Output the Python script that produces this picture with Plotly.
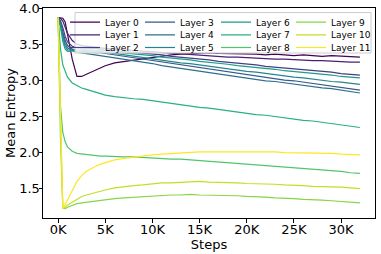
import plotly.graph_objects as go

steps = [0, 250, 500, 750, 1000, 1500, 2000, 2500, 3000, 3500, 4000, 4500, 5000,
         6000, 7000, 8000, 9000, 10000, 11000, 12000, 13000, 14000, 15000, 16000,
         17000, 18000, 19000, 20000, 21000, 22000, 23000, 24000, 25000, 26000,
         27000, 28000, 29000, 30000, 31000, 32000]

layer0 = [3.88, 3.88, 3.87, 3.82, 3.66, 3.30, 3.06, 3.06, 3.09, 3.12, 3.15, 3.18, 3.21, 3.25, 3.27, 3.29, 3.31, 3.33, 3.34, 3.36, 3.37, 3.38, 3.38, 3.39, 3.38, 3.38, 3.37, 3.38, 3.37, 3.36, 3.37, 3.36, 3.35, 3.36, 3.35, 3.34, 3.35, 3.34, 3.33, 3.33]
layer1 = [3.88, 3.87, 3.83, 3.75, 3.66, 3.56, 3.51, 3.49, 3.48, 3.47, 3.47, 3.46, 3.45, 3.44, 3.43, 3.42, 3.41, 3.40, 3.39, 3.38, 3.37, 3.36, 3.35, 3.35, 3.34, 3.33, 3.33, 3.32, 3.31, 3.31, 3.30, 3.30, 3.29, 3.29, 3.28, 3.28, 3.27, 3.27, 3.26, 3.26]
layer2 = [3.88, 3.84, 3.74, 3.62, 3.54, 3.48, 3.46, 3.46, 3.45, 3.45, 3.45, 3.44, 3.44, 3.42, 3.41, 3.40, 3.39, 3.37, 3.36, 3.34, 3.33, 3.31, 3.30, 3.29, 3.27, 3.26, 3.24, 3.23, 3.22, 3.20, 3.19, 3.18, 3.16, 3.15, 3.14, 3.13, 3.12, 3.10, 3.09, 3.08]
layer3 = [3.88, 3.82, 3.68, 3.56, 3.49, 3.44, 3.42, 3.41, 3.40, 3.40, 3.39, 3.39, 3.38, 3.36, 3.34, 3.32, 3.30, 3.28, 3.26, 3.24, 3.22, 3.20, 3.18, 3.16, 3.14, 3.12, 3.10, 3.09, 3.07, 3.05, 3.03, 3.01, 3.00, 2.98, 2.96, 2.95, 2.93, 2.91, 2.89, 2.87]
layer4 = [3.88, 3.80, 3.64, 3.52, 3.46, 3.42, 3.40, 3.39, 3.38, 3.38, 3.37, 3.36, 3.35, 3.33, 3.31, 3.29, 3.26, 3.24, 3.21, 3.19, 3.17, 3.15, 3.13, 3.11, 3.09, 3.07, 3.06, 3.04, 3.02, 3.00, 2.99, 2.97, 2.95, 2.94, 2.92, 2.90, 2.89, 2.87, 2.85, 2.83]
layer5 = [3.88, 3.78, 3.60, 3.48, 3.43, 3.42, 3.42, 3.42, 3.42, 3.41, 3.41, 3.41, 3.40, 3.38, 3.36, 3.35, 3.33, 3.31, 3.29, 3.27, 3.25, 3.24, 3.22, 3.20, 3.18, 3.17, 3.15, 3.13, 3.12, 3.10, 3.08, 3.07, 3.05, 3.04, 3.02, 3.01, 2.99, 2.98, 2.96, 2.95]
layer6 = [3.88, 3.75, 3.55, 3.44, 3.41, 3.42, 3.43, 3.43, 3.43, 3.43, 3.43, 3.42, 3.42, 3.40, 3.39, 3.38, 3.36, 3.35, 3.33, 3.32, 3.30, 3.29, 3.27, 3.26, 3.24, 3.23, 3.21, 3.20, 3.18, 3.17, 3.16, 3.14, 3.13, 3.12, 3.10, 3.09, 3.08, 3.06, 3.05, 3.04]
layer7 = [3.88, 3.45, 3.22, 3.12, 3.05, 2.97, 2.93, 2.90, 2.88, 2.86, 2.84, 2.81, 2.80, 2.78, 2.76, 2.75, 2.74, 2.72, 2.70, 2.68, 2.67, 2.65, 2.63, 2.62, 2.60, 2.59, 2.57, 2.55, 2.53, 2.52, 2.50, 2.49, 2.47, 2.45, 2.44, 2.42, 2.40, 2.39, 2.37, 2.35]
layer8 = [3.88, 2.65, 2.28, 2.15, 2.08, 2.02, 1.99, 1.98, 1.97, 1.96, 1.96, 1.95, 1.95, 1.94, 1.94, 1.94, 1.93, 1.92, 1.92, 1.91, 1.91, 1.90, 1.90, 1.89, 1.88, 1.87, 1.86, 1.85, 1.84, 1.83, 1.82, 1.81, 1.79, 1.78, 1.77, 1.76, 1.75, 1.74, 1.72, 1.71]
layer9 = [3.88, 2.20, 1.23, 1.22, 1.24, 1.27, 1.29, 1.30, 1.31, 1.32, 1.33, 1.34, 1.35, 1.36, 1.37, 1.38, 1.39, 1.40, 1.41, 1.41, 1.41, 1.42, 1.41, 1.41, 1.41, 1.40, 1.40, 1.39, 1.39, 1.38, 1.37, 1.37, 1.36, 1.35, 1.35, 1.34, 1.33, 1.32, 1.31, 1.30]
layer10 = [3.88, 2.30, 1.22, 1.24, 1.27, 1.31, 1.35, 1.39, 1.41, 1.43, 1.45, 1.47, 1.48, 1.51, 1.53, 1.54, 1.55, 1.57, 1.58, 1.58, 1.59, 1.59, 1.60, 1.59, 1.59, 1.58, 1.58, 1.57, 1.57, 1.56, 1.56, 1.55, 1.55, 1.54, 1.53, 1.53, 1.52, 1.52, 1.51, 1.50]
layer11 = [3.88, 2.40, 1.22, 1.28, 1.35, 1.47, 1.60, 1.68, 1.74, 1.78, 1.81, 1.84, 1.86, 1.90, 1.92, 1.94, 1.96, 1.97, 1.98, 1.99, 2.00, 2.00, 2.01, 2.01, 2.01, 2.02, 2.01, 2.02, 2.01, 2.01, 2.01, 2.00, 2.00, 2.00, 1.99, 1.99, 1.99, 1.98, 1.98, 1.97]

layers = [layer0, layer1, layer2, layer3, layer4, layer5, layer6, layer7,
          layer8, layer9, layer10, layer11]
names = [f"Layer {i}" for i in range(12)]
colors = ["#440154", "#482173", "#433e85", "#38588c", "#2d708e", "#25858e",
          "#1e9b8a", "#2ab07f", "#52c569", "#86d549", "#c2df23", "#fde725"]

x_tickvals = [0, 5000, 10000, 15000, 20000, 25000, 30000]
x_ticktext = ["0K", "5K", "10K", "15K", "20K", "25K", "30K"]
y_tickvals = [1.5, 2.0, 2.5, 3.0, 3.5, 4.0]
y_ticktext = ["1.5", "2.0", "2.5", "3.0", "3.5", "4.0"]

FONT = "DejaVu Sans"
W, H = 381, 254
ML, MR, MT, MB = 43, 6, 8, 36
PW, PH = W - ML - MR, H - MT - MB

def px_x(p):
    return (p - ML) / PW

def px_y(p):
    return 1 - (p - MT) / PH

fig = go.Figure()
legend_layouts = {}
col_text_px = [103, 178, 254, 329]
row_px = [20.7, 33.3, 46.0]
for i, vals in enumerate(layers):
    key = "legend" if i == 0 else f"legend{i + 1}"
    fig.add_trace(go.Scatter(x=steps, y=vals, mode="lines", name=names[i],
                             line=dict(color=colors[i], width=1.2),
                             legend=key))
    c, r = divmod(i, 3)
    legend_layouts[key] = dict(
        x=px_x(col_text_px[c] - 38), xanchor="left",
        y=px_y(row_px[r] + 1.5), yanchor="middle",
        bgcolor="rgba(0,0,0,0)", borderwidth=0,
        font=dict(family=FONT, size=9, color="black"),
        itemwidth=30, tracegroupgap=0,
    )

fig.update_layout(**legend_layouts)

fig.add_shape(type="rect", xref="paper", yref="paper",
              x0=px_x(75), x1=px_x(371), y0=px_y(53), y1=px_y(12.5),
              fillcolor="rgba(255,255,255,0.8)",
              line=dict(color="#cccccc", width=1), layer="above")

axis_common = dict(showline=True, linecolor="black", linewidth=1, mirror=True,
                   ticks="outside", ticklen=3.5, tickwidth=0.8, tickcolor="black",
                   showgrid=False, zeroline=False, automargin=False,
                   ticklabelstandoff=-4,
                   tickfont=dict(family=FONT, size=13, color="black"))

fig.update_layout(
    width=W, height=H,
    margin=dict(l=ML, r=MR, t=MT, b=MB, autoexpand=False),
    paper_bgcolor="white", plot_bgcolor="white",
    showlegend=True,
    xaxis=dict(range=[-1600, 33600], tickvals=x_tickvals, ticktext=x_ticktext,
               title=dict(text="Steps", font=dict(family=FONT, size=13, color="black"),
                          standoff=1),
               **axis_common),
    yaxis=dict(range=[1.09, 4.013], tickvals=y_tickvals, ticktext=y_ticktext,
               title=dict(text="Mean Entropy", font=dict(family=FONT, size=13, color="black"),
                          standoff=0),
               **axis_common),
)

fig.write_html("out.html", config={"displayModeBar": False},
               post_script="document.body.style.margin='0';")
